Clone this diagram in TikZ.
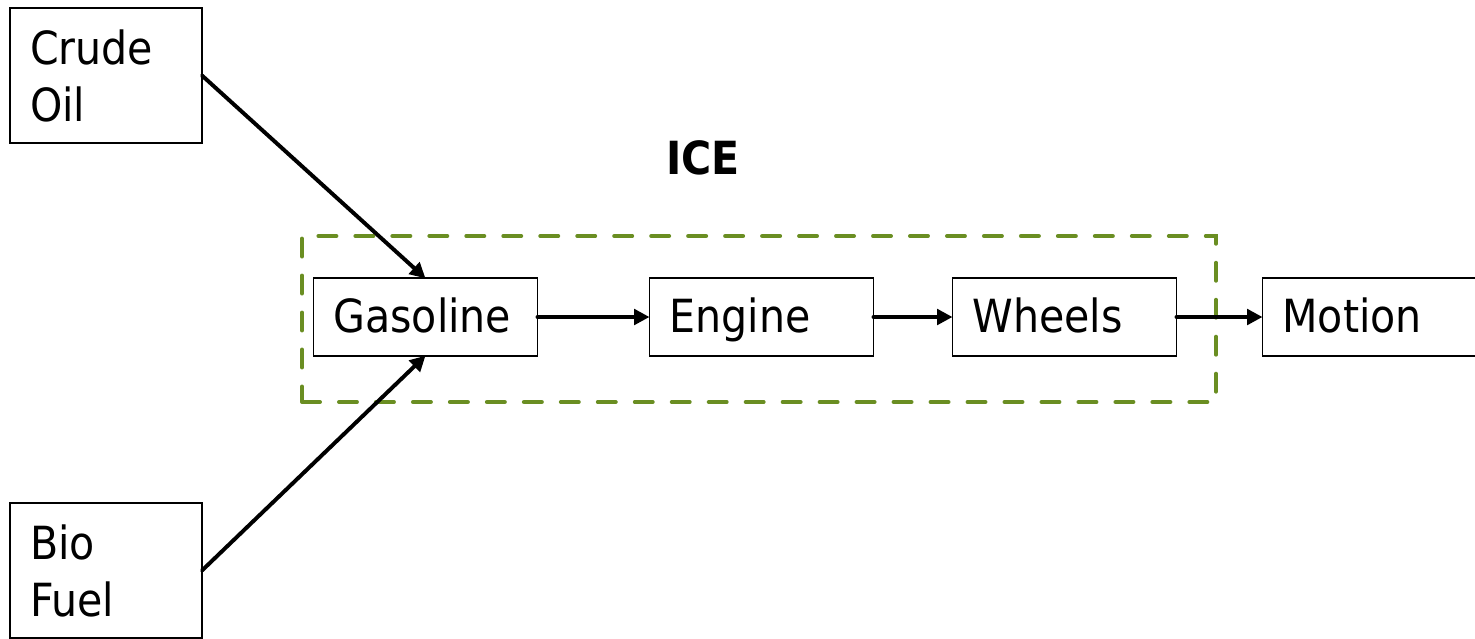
\documentclass[tikz,border=0pt]{standalone}
\usepackage{fontspec}
\setmainfont{DejaVu Sans Condensed}
\usetikzlibrary{positioning,arrows.meta}
\definecolor{icegreen}{HTML}{6A8E22}

\begin{document}
\begin{tikzpicture}[
    >={Triangle[length=11pt,width=11pt]},
    every node/.style={font=\fontsize{32.5}{40.5}\selectfont},
    stage/.style={
        draw,
        line width=1.4pt,
        outer sep=0pt,
        minimum width=5.6cm,
        text width=4.6cm,
        text height=38.5pt,
        text depth=16.5pt,
        inner xsep=0.5cm,
        inner ysep=0pt,
        align=left,
    },
    source/.style={
        draw,
        line width=1.4pt,
        outer sep=0pt,
        minimum width=4.8cm,
        minimum height=3.375cm,
        text width=3.8cm,
        inner sep=0.5cm,
        align=left,
    },
    flow/.style={->,line width=2.8pt,line cap=round},
    group/.style={
        draw=icegreen,
        line width=2.8pt,
        line cap=round,
        dash pattern=on 12.8pt off 13.5pt,
        minimum width=22.85cm,
        minimum height=4.15cm,
    },
]
\useasboundingbox (0,0) rectangle (36.875,-15.95);

% ICE group
\node[group] (ice) at (18.975,-7.975) {};
\node[font=\fontsize{32.5}{40.5}\selectfont\bfseries] (icelabel) at (17.575,-3.95) {ICE};

% Chain
\node[stage] (gasoline) at (10.6375,-7.925) {Gasoline};
\node[stage,right=2.8cm of gasoline] (engine) {Engine};
\node[stage,right=1.975cm of engine] (wheels) {Wheels};
\node[stage,right=2.15cm of wheels] (motion) {Motion};

% Sources
\node[source] (crude) at (2.65,-1.8875) {Crude\\Oil};
\node[source] (bio) at (2.65,-14.2625) {Bio\\Fuel};

\draw[flow] (crude.east) -- (gasoline.north);
\draw[flow] (bio.east) -- (gasoline.south);
\draw[flow] (gasoline) -- (engine);
\draw[flow] (engine) -- (wheels);
\draw[flow] (wheels) -- (motion);

\end{tikzpicture}
\end{document}
